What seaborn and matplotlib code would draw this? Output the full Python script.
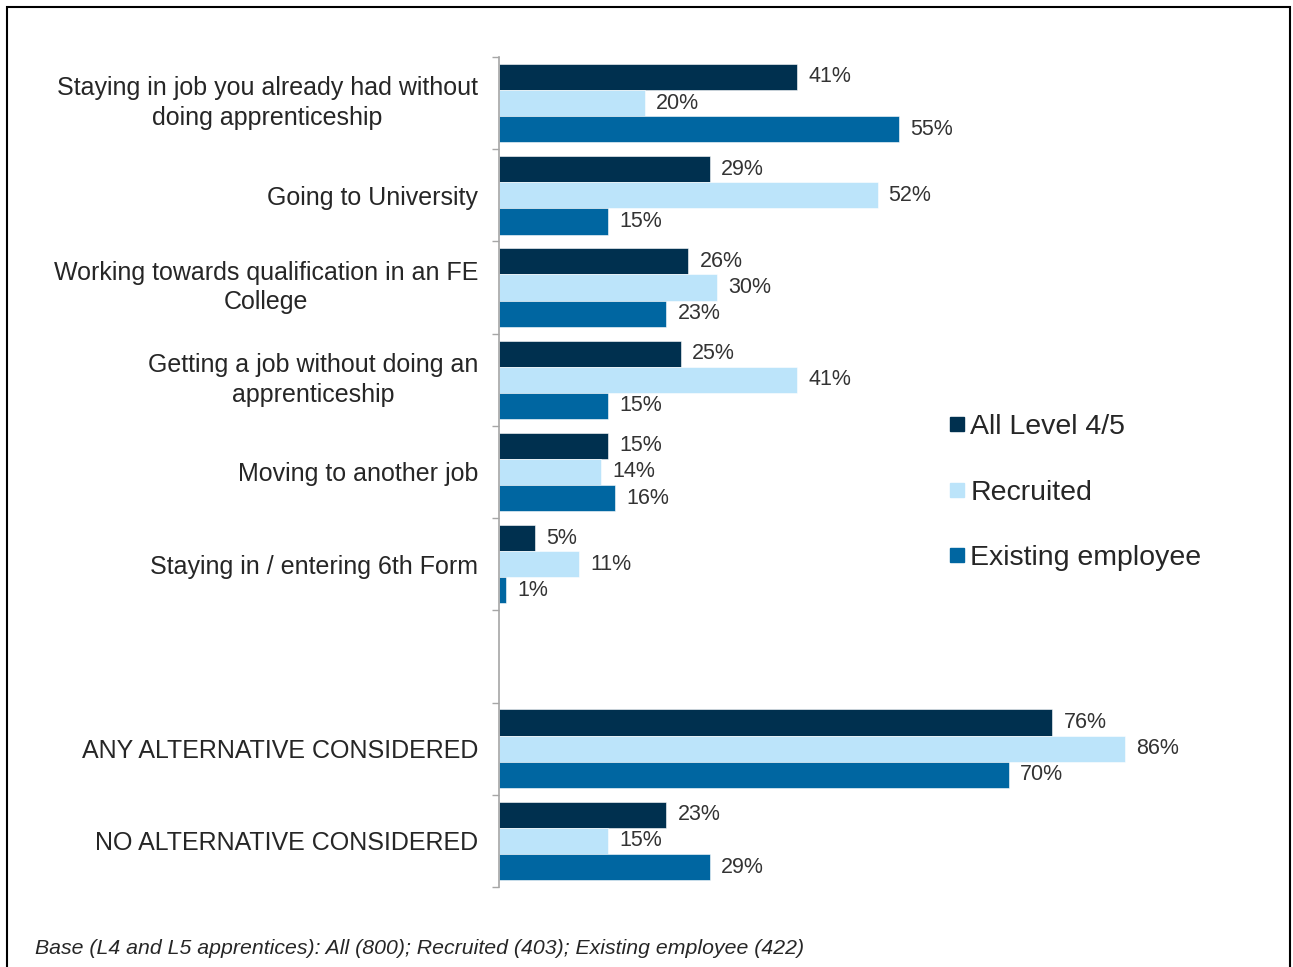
import numpy as np
import pandas as pd
import matplotlib.pyplot as plt
import seaborn as sns
from matplotlib.lines import Line2D
from matplotlib.patches import Rectangle

# Chart data
categories = [
    'Staying in job you already had without\ndoing apprenticeship',
    'Going to University',
    'Working towards qualification in an FE\nCollege',
    'Getting a job without doing an\napprenticeship',
    'Moving to another job',
    'Staying in / entering 6th Form',
    ' ',
    'ANY ALTERNATIVE CONSIDERED',
    'NO ALTERNATIVE CONSIDERED',
]
all_level = [41, 29, 26, 25, 15, 5, np.nan, 76, 23]
recruited = [20, 52, 30, 41, 14, 11, np.nan, 86, 15]
existing = [55, 15, 23, 15, 16, 1, np.nan, 70, 29]
series = ['All Level 4/5', 'Recruited', 'Existing employee']
colors = ['#00304F', '#BCE4FA', '#0066A1']
footnote = 'Base (L4 and L5 apprentices): All (800); Recruited (403); Existing employee (422)'

df = pd.DataFrame({'category': categories, series[0]: all_level,
                   series[1]: recruited, series[2]: existing})
long = df.melt(id_vars='category', var_name='group', value_name='pct')

sns.set_style('white')
plt.rcParams['font.family'] = ['Liberation Sans', 'DejaVu Sans']

fig = plt.figure(figsize=(12.93, 9.67), dpi=100)
ax = fig.add_axes([499/1293, 80/967, 728/1293, 830/967])

sns.barplot(data=long.dropna(), y='category', x='pct', hue='group', order=categories,
            hue_order=series, palette=colors, saturation=1, orient='h', width=0.85,
            gap=0, edgecolor='white', linewidth=0.4, legend=False, ax=ax)

for c in ax.containers:
    ax.bar_label(c, fmt='%.0f%%', padding=8, fontsize=15.5, color='#333333')

ax.set_xlim(0, 100)
ax.set_ylim(len(categories) - 0.5, -0.5)
ax.set_xlabel('')
ax.set_ylabel('')
ax.set_xticks([])
ax.set_yticks(range(len(categories)))
ax.set_yticklabels(categories, fontsize=18, color='#262626', linespacing=1.3,
                   multialignment='center')
for lbl in ax.get_yticklabels():
    if '\n' in lbl.get_text():
        lbl.set_va('center')
ax.set_yticks(np.arange(-0.5, len(categories)), minor=True)
ax.tick_params(axis='y', which='major', length=0, pad=15)
ax.tick_params(axis='y', which='minor', length=5, width=1, color='#A6A6A6', left=True)
for s in ['top', 'right', 'bottom']:
    ax.spines[s].set_visible(False)
ax.spines['left'].set_color('#A6A6A6')
ax.spines['left'].set_linewidth(1.2)

handles = [Line2D([], [], marker='s', linestyle='', markersize=10, color=c) for c in colors]
fig.legend(handles, series, loc='upper left', bbox_to_anchor=(936/1293, 1 - 403/967),
           frameon=False, fontsize=20.5, labelspacing=1.38, handlelength=0.7,
           handletextpad=0.1, borderaxespad=0, labelcolor='#262626')

fig.text(35/1293, 1 - 949/967, footnote, fontsize=15.3, style='italic',
         color='#262626', va='center', ha='left')

fig.patches.append(Rectangle((7/1293, -0.02), 1283/1293, 1 - 7/967 + 0.02,
                             transform=fig.transFigure, fill=False,
                             edgecolor='black', linewidth=1.5))

fig.savefig('out.png', dpi=100)
